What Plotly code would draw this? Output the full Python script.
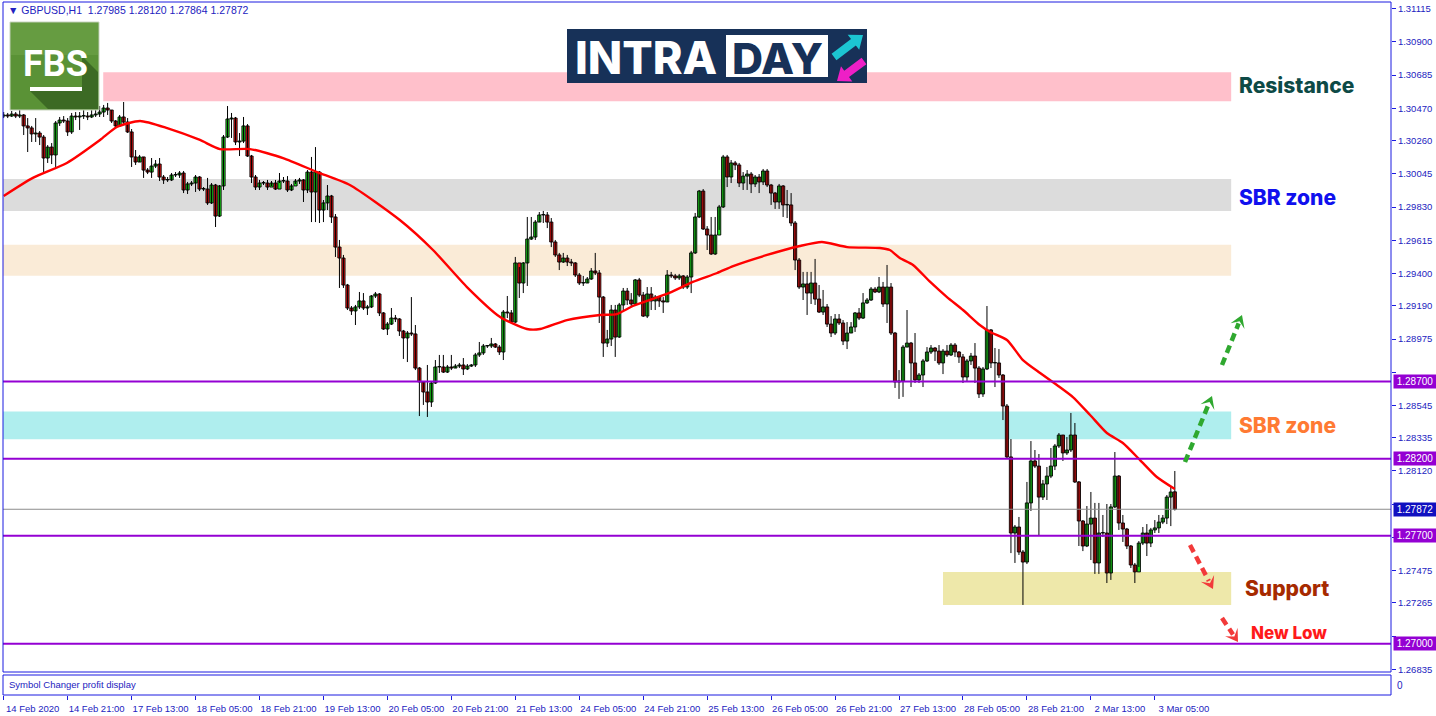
import plotly.graph_objects as go

# ---------------- DATA ----------------
symbol = "GBPUSD,H1"
first_open = 1.30420
last_open = 1.27985

closes = [
    1.30427, 1.30420, 1.30433, 1.30420, 1.30427, 1.30356, 1.30343, 1.30304, 1.30310, 1.30284,
    1.30148, 1.30219, 1.30168, 1.30375, 1.30394, 1.30388, 1.30317, 1.30420, 1.30414, 1.30420,
    1.30420, 1.30414, 1.30427, 1.30433, 1.30446, 1.30472, 1.30459, 1.30388, 1.30356, 1.30414,
    1.30381, 1.30317, 1.30155, 1.30122, 1.30155, 1.30070, 1.30057, 1.30096, 1.30109, 1.30025,
    1.30006, 1.30006, 1.30038, 1.30038, 1.30051, 1.29941, 1.29980, 1.29986, 1.30025, 1.29947,
    1.29947, 1.29857, 1.29973, 1.29772, 1.29967, 1.30284, 1.30401, 1.30407, 1.30252, 1.30258,
    1.30356, 1.30161, 1.30025, 1.29960, 1.29986, 1.29986, 1.29960, 1.29986, 1.29947, 1.29999,
    1.29999, 1.29941, 1.29967, 1.29999, 1.30006, 1.29941, 1.30057, 1.29928, 1.30057, 1.29811,
    1.29857, 1.29902, 1.29766, 1.29571, 1.29500, 1.29325, 1.29176, 1.29157, 1.29183, 1.29222,
    1.29176, 1.29183, 1.29254, 1.29267, 1.29144, 1.29040, 1.29072, 1.29111, 1.29105, 1.29027,
    1.28982, 1.29014, 1.29008, 1.28787, 1.28697, 1.28632, 1.28567, 1.28690, 1.28794, 1.28794,
    1.28761, 1.28794, 1.28787, 1.28800, 1.28807, 1.28781, 1.28800, 1.28807, 1.28872, 1.28885,
    1.28930, 1.28930, 1.28943, 1.28923, 1.28891, 1.29150, 1.29144, 1.29085, 1.29468, 1.29338,
    1.29468, 1.29623, 1.29636, 1.29733, 1.29779, 1.29779, 1.29733, 1.29604, 1.29520, 1.29474,
    1.29500, 1.29474, 1.29468, 1.29390, 1.29338, 1.29338, 1.29364, 1.29416, 1.29403, 1.29247,
    1.28949, 1.28975, 1.29163, 1.28988, 1.29196, 1.29286, 1.29228, 1.29202, 1.29358, 1.29260,
    1.29124, 1.29267, 1.29222, 1.29247, 1.29222, 1.29215, 1.29390, 1.29384, 1.29371, 1.29384,
    1.29312, 1.29377, 1.29533, 1.29766, 1.29934, 1.29688, 1.29649, 1.29526, 1.29649, 1.29831,
    1.30155, 1.30025, 1.30116, 1.30103, 1.29986, 1.30031, 1.30044, 1.29980, 1.30025, 1.29993,
    1.30064, 1.29973, 1.29921, 1.29863, 1.29967, 1.29844, 1.29844, 1.29727, 1.29487, 1.29312,
    1.29332, 1.29273, 1.29338, 1.29234, 1.29150, 1.29183, 1.29072, 1.29014, 1.29105, 1.29079,
    1.28962, 1.29014, 1.29053, 1.29144, 1.29111, 1.29209, 1.29228, 1.29299, 1.29280, 1.29312,
    1.29202, 1.29312, 1.29014, 1.28697, 1.28703, 1.28923, 1.28949, 1.28820, 1.28710, 1.28742,
    1.28833, 1.28891, 1.28917, 1.28897, 1.28820, 1.28897, 1.28872, 1.28936, 1.28891, 1.28859,
    1.28729, 1.28833, 1.28865, 1.28787, 1.28619, 1.28781, 1.29034, 1.28820, 1.28820, 1.28742,
    1.28541, 1.28211, 1.27718, 1.27757, 1.27595, 1.27530, 1.27913, 1.28185, 1.28152, 1.27951,
    1.28036, 1.28087, 1.28152, 1.28282, 1.28353, 1.28237, 1.28256, 1.28353, 1.28049, 1.27796,
    1.27634, 1.27776, 1.27815, 1.27524, 1.27718, 1.27718, 1.27459, 1.27887, 1.28087, 1.27783,
    1.27744, 1.27634, 1.27511, 1.27466, 1.27653, 1.27718, 1.27653, 1.27738, 1.27751, 1.27789,
    1.27815, 1.27951, 1.27984, 1.27872,
]

highs = [
    1.30446, 1.30440, 1.30453, 1.30446, 1.30459, 1.30433, 1.30407, 1.30356, 1.30407, 1.30323,
    1.30297, 1.30232, 1.30245, 1.30388, 1.30414, 1.30420, 1.30407, 1.30440, 1.30446, 1.30446,
    1.30459, 1.30446, 1.30459, 1.30472, 1.30485, 1.30492, 1.30505, 1.30459, 1.30394, 1.30427,
    1.30511, 1.30407, 1.30336, 1.30200, 1.30168, 1.30155, 1.30083, 1.30148, 1.30135, 1.30148,
    1.30038, 1.30025, 1.30051, 1.30057, 1.30064, 1.30064, 1.29993, 1.29999, 1.30038, 1.30031,
    1.29960, 1.30019, 1.29986, 1.29980, 1.29973, 1.30297, 1.30485, 1.30440, 1.30414, 1.30310,
    1.30414, 1.30368, 1.30168, 1.30038, 1.30006, 1.29999, 1.30006, 1.29999, 1.30006, 1.30051,
    1.30025, 1.30031, 1.29980, 1.30012, 1.30019, 1.30012, 1.30070, 1.30155, 1.30219, 1.30064,
    1.29876, 1.29973, 1.29909, 1.29785, 1.29617, 1.29520, 1.29332, 1.29189, 1.29196, 1.29280,
    1.29273, 1.29196, 1.29260, 1.29280, 1.29273, 1.29150, 1.29085, 1.29176, 1.29131, 1.29111,
    1.29034, 1.29027, 1.29247, 1.29066, 1.28794, 1.28703, 1.28807, 1.28703, 1.28839, 1.28872,
    1.28872, 1.28807, 1.28872, 1.28813, 1.28820, 1.28852, 1.28813, 1.28813, 1.28885, 1.28956,
    1.28943, 1.28936, 1.28982, 1.28949, 1.28936, 1.29163, 1.29254, 1.29163, 1.29507, 1.29442,
    1.29474, 1.29766, 1.29766, 1.29746, 1.29798, 1.29805, 1.29798, 1.29759, 1.29617, 1.29533,
    1.29533, 1.29520, 1.29494, 1.29474, 1.29403, 1.29384, 1.29377, 1.29435, 1.29533, 1.29422,
    1.29254, 1.29034, 1.29196, 1.29196, 1.29209, 1.29306, 1.29306, 1.29273, 1.29364, 1.29371,
    1.29280, 1.29312, 1.29312, 1.29260, 1.29254, 1.29247, 1.29422, 1.29410, 1.29397, 1.29397,
    1.29390, 1.29390, 1.29546, 1.29792, 1.29941, 1.29947, 1.29707, 1.29766, 1.29766, 1.29844,
    1.30168, 1.30168, 1.30135, 1.30129, 1.30116, 1.30057, 1.30070, 1.30057, 1.30038, 1.30044,
    1.30077, 1.30077, 1.29980, 1.29928, 1.29980, 1.29973, 1.29941, 1.29921, 1.29740, 1.29500,
    1.29410, 1.29410, 1.29410, 1.29494, 1.29325, 1.29293, 1.29202, 1.29124, 1.29137, 1.29137,
    1.29098, 1.29085, 1.29085, 1.29150, 1.29176, 1.29273, 1.29241, 1.29312, 1.29312, 1.29377,
    1.29345, 1.29455, 1.29338, 1.29021, 1.28774, 1.28936, 1.29163, 1.28956, 1.29014, 1.28755,
    1.28846, 1.28923, 1.28936, 1.28923, 1.28936, 1.28910, 1.28936, 1.28949, 1.28949, 1.28897,
    1.28878, 1.28846, 1.28885, 1.28949, 1.28800, 1.28794, 1.29189, 1.29040, 1.28917, 1.28910,
    1.28748, 1.28554, 1.28327, 1.27770, 1.27822, 1.27608, 1.28049, 1.28314, 1.28256, 1.28230,
    1.28062, 1.28146, 1.28269, 1.28295, 1.28366, 1.28353, 1.28340, 1.28496, 1.28431, 1.28055,
    1.27802, 1.27893, 1.27984, 1.27913, 1.27913, 1.27835, 1.27906, 1.27906, 1.28243, 1.28094,
    1.27835, 1.27751, 1.27640, 1.27524, 1.27666, 1.27757, 1.27776, 1.27751, 1.27802, 1.27835,
    1.27835, 1.27964, 1.28016, 1.28120,
]

lows = [
    1.30407, 1.30407, 1.30414, 1.30407, 1.30407, 1.30297, 1.30187, 1.30252, 1.30252, 1.30232,
    1.30051, 1.30116, 1.30109, 1.30090, 1.30356, 1.30375, 1.30291, 1.30304, 1.30394, 1.30330,
    1.30401, 1.30394, 1.30407, 1.30414, 1.30414, 1.30414, 1.30427, 1.30375, 1.30343, 1.30356,
    1.30368, 1.30310, 1.30090, 1.30103, 1.30122, 1.30019, 1.30044, 1.30019, 1.30083, 1.29999,
    1.29980, 1.29993, 1.29999, 1.30025, 1.30019, 1.29921, 1.29915, 1.29967, 1.29928, 1.29934,
    1.29934, 1.29844, 1.29850, 1.29701, 1.29766, 1.29941, 1.30278, 1.30278, 1.30232, 1.30161,
    1.30245, 1.30155, 1.29986, 1.29941, 1.29941, 1.29973, 1.29941, 1.29967, 1.29941, 1.29986,
    1.29986, 1.29928, 1.29934, 1.29980, 1.29980, 1.29863, 1.29921, 1.29733, 1.29733, 1.29727,
    1.29733, 1.29811, 1.29727, 1.29507, 1.29306, 1.29306, 1.29163, 1.29131, 1.29066, 1.29170,
    1.29163, 1.29131, 1.29176, 1.29241, 1.29124, 1.29034, 1.29001, 1.29066, 1.29085, 1.28995,
    1.28846, 1.28826, 1.28995, 1.28774, 1.28476, 1.28548, 1.28470, 1.28535, 1.28684, 1.28755,
    1.28755, 1.28755, 1.28774, 1.28787, 1.28787, 1.28742, 1.28774, 1.28794, 1.28794, 1.28859,
    1.28872, 1.28917, 1.28917, 1.28917, 1.28872, 1.28839, 1.29111, 1.29079, 1.29079, 1.29241,
    1.29273, 1.29319, 1.29617, 1.29617, 1.29733, 1.29727, 1.29694, 1.29571, 1.29507, 1.29422,
    1.29468, 1.29448, 1.29448, 1.29377, 1.29325, 1.29319, 1.29338, 1.29358, 1.29390, 1.29079,
    1.28859, 1.28923, 1.28930, 1.28859, 1.28982, 1.29163, 1.29196, 1.29183, 1.29196, 1.29247,
    1.29118, 1.29111, 1.29163, 1.29163, 1.29183, 1.29144, 1.29215, 1.29371, 1.29358, 1.29358,
    1.29299, 1.29299, 1.29273, 1.29526, 1.29759, 1.29682, 1.29552, 1.29520, 1.29520, 1.29682,
    1.29824, 1.29960, 1.29986, 1.30070, 1.29960, 1.29941, 1.29941, 1.29921, 1.29960, 1.29921,
    1.29973, 1.29960, 1.29844, 1.29818, 1.29818, 1.29766, 1.29759, 1.29707, 1.29422, 1.29299,
    1.29228, 1.29131, 1.29202, 1.29196, 1.29144, 1.29131, 1.29053, 1.28988, 1.29001, 1.29066,
    1.28936, 1.28910, 1.29014, 1.29021, 1.29098, 1.29105, 1.29202, 1.29222, 1.29273, 1.29273,
    1.29183, 1.29079, 1.29001, 1.28658, 1.28587, 1.28600, 1.28923, 1.28664, 1.28690, 1.28690,
    1.28664, 1.28826, 1.28878, 1.28833, 1.28807, 1.28748, 1.28859, 1.28865, 1.28859, 1.28820,
    1.28690, 1.28697, 1.28807, 1.28690, 1.28593, 1.28600, 1.28774, 1.28787, 1.28664, 1.28723,
    1.28450, 1.28204, 1.27588, 1.27524, 1.27576, 1.27252, 1.27517, 1.27861, 1.28139, 1.27705,
    1.27932, 1.27932, 1.28074, 1.28126, 1.28269, 1.28185, 1.28224, 1.28243, 1.28042, 1.27634,
    1.27601, 1.27627, 1.27543, 1.27453, 1.27453, 1.27692, 1.27394, 1.27414, 1.27880, 1.27738,
    1.27660, 1.27614, 1.27491, 1.27394, 1.27498, 1.27640, 1.27569, 1.27627, 1.27718, 1.27718,
    1.27776, 1.27776, 1.27763, 1.27864,
]

# moving average (red line), read at sample bars
ma_bars = [0, 7.3, 15.8, 24.1, 28.3, 34.1, 40.9, 49.1, 54.1, 61.6, 69.9, 78.4, 86.6, 99.1,
           107.4, 115.9, 124.2, 130.9, 134.2, 140.9, 149.2, 153.4, 157.4, 165.9, 172.4, 178.5,
           182.5, 191.0, 199.2, 204.7, 211.0, 219.2, 221.7, 224.2, 227.5, 231.8, 236.0, 240.0,
           244.2, 246.8, 251.0, 255.0, 259.3, 263.5, 267.5, 271.8, 276.0, 280.0, 284.3, 288.5, 293.0]
ma_values = [1.29902, 1.30019, 1.30116, 1.30265, 1.30349, 1.30388, 1.30342, 1.30265, 1.30206,
             1.30206, 1.30148, 1.30057, 1.29973, 1.29746, 1.29552, 1.29312, 1.29118, 1.29040,
             1.29040, 1.29098, 1.29131, 1.29137, 1.29189, 1.29267, 1.29345, 1.29403, 1.29448,
             1.29520, 1.29578, 1.29604, 1.29571, 1.29565, 1.29552, 1.29500, 1.29455, 1.29345,
             1.29247, 1.29163, 1.29066, 1.29021, 1.28969, 1.28839, 1.28755, 1.28677, 1.28599,
             1.28483, 1.28366, 1.28301, 1.28191, 1.28081, 1.28003]

time_tick_bars = [0, 16, 32, 48, 64, 80, 96, 112, 128, 144, 160, 176, 192, 208, 224, 240, 256, 272, 288]
time_tick_labels = ["14 Feb 2020", "14 Feb 21:00", "17 Feb 13:00", "18 Feb 05:00", "18 Feb 21:00",
                    "19 Feb 13:00", "20 Feb 05:00", "20 Feb 21:00", "21 Feb 13:00", "24 Feb 05:00",
                    "24 Feb 21:00", "25 Feb 13:00", "26 Feb 05:00", "26 Feb 21:00", "27 Feb 13:00",
                    "28 Feb 05:00", "28 Feb 21:00", "2 Mar 13:00", "3 Mar 05:00"]

price_ticks = [1.31115, 1.30900, 1.30685, 1.30470, 1.30260, 1.30045, 1.29830, 1.29615, 1.29400,
               1.29190, 1.28975, 1.28760, 1.28545, 1.28335, 1.28120, 1.27905, 1.27690, 1.27475,
               1.27265, 1.27050, 1.26835]
# tick labels hidden behind the price tags on the right axis
hidden_price_ticks = [1.28760, 1.27905, 1.27690, 1.27050]

level_prices = [1.28700, 1.28200, 1.27700, 1.27000]

zone_names = ["Resistance", "SBR grey", "SBR beige", "SBR cyan", "Support"]
zone_start_bar = [24.9, None, None, None, 235.0]
zone_end_bar = [307.1, 307.1, 307.1, 307.1, 307.1]
zone_low = [1.30516, 1.29805, 1.29385, 1.28325, 1.27252]
zone_high = [1.30704, 1.30012, 1.29586, 1.28506, 1.27465]
zone_colors = ["#ffc0cb", "#dcdcdc", "#faebd7", "#afeeee", "#eee8aa"]

label_texts = ["Resistance", "SBR zone", "SBR zone", "Support", "New Low"]
label_prices = [1.30620, 1.29895, 1.28415, 1.27360, 1.27070]
label_bars = [308.6, 308.6, 308.6, 310.1, 311.6]
label_colors = ["#0d4a46", "#1010ee", "#ff7a33", "#a62a00", "#ff1a1a"]
label_sizes = [21, 21, 21, 21, 17]

# ---------------- geometry helpers ----------------
W, H = 1436, 716
PX0, PX1 = 3, 1391      # plot area left / right (px)
PY0, PY1 = 2, 695       # plot area top / bottom (px)
MAIN_BOTTOM = 672
SUB_TOP = 675
BAR_PX = 3.997
X_START = -0.7 / BAR_PX
X_END = X_START + (PX1 - PX0) / BAR_PX
Y_TOP = 1.31172 - 0.0000648 * PY0
Y_BOTTOM = 1.31172 - 0.0000648 * MAIN_BOTTOM


def px(x):
    return (x - PX0) / (PX1 - PX0)


def py(y):
    return (PY1 - y) / (PY1 - PY0)


AXIS_BLUE = "#1a1ae0"
TEXT_BLUE = "#2323c0"
PURPLE = "#9400d3"

n = len(closes)
bars = list(range(n))
opens = [first_open] + closes[:-1]
opens[-1] = last_open

fig = go.Figure()

# wicks
wick_x, wick_y = [], []
for i, h, l in zip(bars, highs, lows):
    wick_x += [i, i, None]
    wick_y += [l, h, None]
fig.add_trace(go.Scatter(x=wick_x, y=wick_y, mode="lines", line=dict(color="#000000", width=1),
                         hoverinfo="skip", showlegend=False))

# bodies
MIN_BODY = 0.00003
body_base = [min(o, c) for o, c in zip(opens, closes)]
body_len = [max(abs(c - o), MIN_BODY) for o, c in zip(opens, closes)]
body_col = ["#1ee61e" if c >= o else "#f01414" for o, c in zip(opens, closes)]
fig.add_trace(go.Bar(x=bars, y=body_len, base=body_base, width=0.8,
                     marker=dict(color=body_col, line=dict(color="#000000", width=0.9)),
                     hoverinfo="skip", showlegend=False))

fig.add_trace(go.Scatter(
    x=ma_bars, y=ma_values, mode="lines",
    line=dict(color="#ff0000", width=2.4, shape="spline", smoothing=0.6),
    hoverinfo="skip", showlegend=False,
))

shapes = []
for name, s, e, lo, hi, col in zip(zone_names, zone_start_bar, zone_end_bar, zone_low, zone_high, zone_colors):
    shapes.append(dict(type="rect", xref="x", yref="y",
                       x0=X_START if s is None else s, x1=e, y0=lo, y1=hi,
                       fillcolor=col, line=dict(width=0), layer="below"))

for lv in level_prices:
    shapes.append(dict(type="line", xref="paper", yref="y", x0=0, x1=1, y0=lv, y1=lv,
                       line=dict(color=PURPLE, width=2), layer="above"))
shapes.append(dict(type="line", xref="paper", yref="y", x0=0, x1=1, y0=closes[-1], y1=closes[-1],
                   line=dict(color="#8c8c8c", width=1), layer="above"))

shapes.append(dict(type="rect", xref="paper", yref="paper", x0=0, x1=1, y0=py(MAIN_BOTTOM), y1=1,
                   line=dict(color=AXIS_BLUE, width=1), fillcolor="rgba(0,0,0,0)", layer="above"))
shapes.append(dict(type="rect", xref="paper", yref="paper", x0=0, x1=1, y0=0, y1=py(SUB_TOP),
                   line=dict(color=AXIS_BLUE, width=1), fillcolor="rgba(0,0,0,0)", layer="above"))


def poly(points):
    return "M" + " L".join(f"{px(a):.5f},{py(b):.5f}" for a, b in points) + " Z"


def solid_arrow(tail, tip, shaft, head_len, head_w):
    (x0, y0), (x1, y1) = tail, tip
    dx, dy = x1 - x0, y1 - y0
    L = (dx * dx + dy * dy) ** 0.5
    ux, uy = dx / L, dy / L
    nx, ny = -uy, ux
    bx, by = x1 - ux * head_len, y1 - uy * head_len
    return [
        (x0 + nx * shaft / 2, y0 + ny * shaft / 2),
        (bx + nx * shaft / 2, by + ny * shaft / 2),
        (bx + nx * head_w / 2, by + ny * head_w / 2),
        (x1, y1),
        (bx - nx * head_w / 2, by - ny * head_w / 2),
        (bx - nx * shaft / 2, by - ny * shaft / 2),
        (x0 - nx * shaft / 2, y0 - ny * shaft / 2),
    ]


def dashed_arrow(tail, tip, color, width=4.5, head_len=12, head_w=15):
    (x0, y0), (x1, y1) = tail, tip
    dx, dy = x1 - x0, y1 - y0
    L = (dx * dx + dy * dy) ** 0.5
    ux, uy = dx / L, dy / L
    nx, ny = -uy, ux
    bx, by = x1 - ux * head_len, y1 - uy * head_len
    out = [dict(type="line", xref="paper", yref="paper", x0=px(x0), y0=py(y0),
                x1=px(bx + ux * 3), y1=py(by + uy * 3),
                line=dict(color=color, width=width, dash="8px,5px"), layer="above")]
    notch = (x1 - ux * head_len * 0.55, y1 - uy * head_len * 0.55)
    pts = [(x1, y1), (bx + nx * head_w / 2, by + ny * head_w / 2), notch,
           (bx - nx * head_w / 2, by - ny * head_w / 2)]
    out.append(dict(type="path", xref="paper", yref="paper", path=poly(pts),
                    fillcolor=color, line=dict(width=0), layer="above"))
    return out


shapes += dashed_arrow((1185, 462), (1212, 396), "#2fa82f")
shapes += dashed_arrow((1222, 365), (1242, 315), "#2fa82f")
shapes += dashed_arrow((1190, 545), (1213, 589), "#f23a3a")
shapes += dashed_arrow((1222, 618), (1238, 642), "#f23a3a")

# FBS logo
shapes.append(dict(type="rect", xref="paper", yref="paper", x0=px(10), x1=px(99), y0=py(110), y1=py(22),
                   fillcolor="#5a9236", line=dict(color="#c9d5c0", width=1), layer="above"))
shapes.append(dict(type="rect", xref="paper", yref="paper", x0=px(11), x1=px(98), y0=py(55), y1=py(23),
                   fillcolor="rgba(125,175,85,0.35)", line=dict(width=0), layer="above"))
shapes.append(dict(type="path", xref="paper", yref="paper",
                   path=poly([(30, 91), (82, 91), (82, 56), (98, 72), (98, 109), (48, 109)]),
                   fillcolor="#3c6a24", line=dict(width=0), layer="above"))
shapes.append(dict(type="rect", xref="paper", yref="paper", x0=px(30), x1=px(82), y0=py(91), y1=py(87),
                   fillcolor="#ffffff", line=dict(width=0), layer="above"))

# INTRADAY logo
shapes.append(dict(type="rect", xref="paper", yref="paper", x0=px(567), x1=px(867), y0=py(83), y1=py(29),
                   fillcolor="#173158", line=dict(width=0), layer="above"))
shapes.append(dict(type="rect", xref="paper", yref="paper", x0=px(726), x1=px(828), y0=py(77), y1=py(35),
                   fillcolor="#ffffff", line=dict(width=0), layer="above"))
shapes.append(dict(type="path", xref="paper", yref="paper",
                   path=poly(solid_arrow((834, 57), (863, 35), 8, 12, 19)),
                   fillcolor="#1cc6d2", line=dict(width=0), layer="above"))
shapes.append(dict(type="path", xref="paper", yref="paper",
                   path=poly(solid_arrow((864, 61), (837, 81), 8, 12, 19)),
                   fillcolor="#ee1fc6", line=dict(width=0), layer="above"))

annotations = []
annotations.append(dict(
    xref="paper", yref="paper", x=px(6), y=py(10), xanchor="left", yanchor="middle",
    text=("\u25bc\u00a0" + symbol + "\u00a0\u00a0" +
          " ".join(f"{v:.5f}" for v in (opens[-1], highs[-1], lows[-1], closes[-1]))),
    showarrow=False, font=dict(family="Liberation Sans", size=10.5, color=TEXT_BLUE)))
annotations.append(dict(xref="paper", yref="paper", x=px(56), y=py(64), xanchor="center", yanchor="middle",
                        text="FBS", showarrow=False,
                        font=dict(family="Liberation Sans Narrow, Roboto", size=36, color="#ffffff",
                                  weight="bold")))
annotations.append(dict(xref="paper", yref="paper", x=px(573), y=py(58), xanchor="left", yanchor="middle",
                        text="INTRA", showarrow=False,
                        font=dict(family="Inter", size=45, color="#ffffff", weight=800)))
annotations.append(dict(xref="paper", yref="paper", x=px(777), y=py(58), xanchor="center", yanchor="middle",
                        text="DAY", showarrow=False,
                        font=dict(family="Inter", size=43, color="#173158", weight=800)))
for t, p, b, c, s in zip(label_texts, label_prices, label_bars, label_colors, label_sizes):
    annotations.append(dict(xref="x", yref="y", x=b, y=p, xanchor="left", yanchor="middle",
                            text=t, showarrow=False,
                            font=dict(family="Inter", size=s, color=c, weight=800)))
for lv in level_prices:
    annotations.append(dict(xref="paper", yref="y", x=1, y=lv, xanchor="left", yanchor="middle",
                            xshift=2, text=f"{lv:.5f}", showarrow=False, bgcolor=PURPLE,
                            borderpad=1, width=40,
                            font=dict(family="Liberation Sans", size=10, color="#ffffff")))
annotations.append(dict(xref="paper", yref="y", x=1, y=closes[-1], xanchor="left", yanchor="middle",
                        xshift=2, text=f"{closes[-1]:.5f}", showarrow=False, bgcolor="#1010c0",
                        borderpad=1, width=40,
                        font=dict(family="Liberation Sans", size=10, color="#ffffff")))
annotations.append(dict(xref="paper", yref="paper", x=px(7), y=py(684), xanchor="left", yanchor="middle",
                        text="Symbol Changer profit display", showarrow=False,
                        font=dict(family="Liberation Sans", size=9.5, color=TEXT_BLUE)))
annotations.append(dict(xref="paper", yref="paper", x=px(1395), y=py(685), xanchor="left",
                        yanchor="middle", text="0", showarrow=False,
                        font=dict(family="Liberation Sans", size=10, color=TEXT_BLUE)))

fig.update_layout(
    width=W, height=H,
    margin=dict(l=PX0, r=W - PX1, t=PY0, b=H - PY1, pad=0),
    paper_bgcolor="#ffffff", plot_bgcolor="#ffffff",
    showlegend=False, dragmode=False, bargap=0,
    shapes=shapes, annotations=annotations,
    xaxis=dict(
        range=[X_START, X_END],
        anchor="free", position=0,
        tickmode="array", tickvals=time_tick_bars, ticktext=time_tick_labels,
        ticks="outside", ticklen=4, tickcolor=AXIS_BLUE, tickwidth=1,
        ticklabelshift=29, ticklabelstandoff=1,
        tickfont=dict(family="Liberation Sans", size=9.5, color=TEXT_BLUE),
        showgrid=False, zeroline=False, showline=False, fixedrange=True,
    ),
    yaxis=dict(
        domain=[py(MAIN_BOTTOM), 1], range=[Y_BOTTOM, Y_TOP], side="right",
        tickmode="array", tickvals=price_ticks,
        ticktext=["" if v in hidden_price_ticks else f"{v:.5f}" for v in price_ticks],
        ticks="outside", ticklen=4, tickcolor=AXIS_BLUE, tickwidth=1,
        tickfont=dict(family="Liberation Sans", size=9.5, color=TEXT_BLUE),
        showgrid=False, zeroline=False, showline=False, fixedrange=True,
    ),
)

fig.write_html("out.html", config={"displayModeBar": False, "staticPlot": True},
               post_script="document.body.style.margin='0';document.body.style.overflow='hidden';")
